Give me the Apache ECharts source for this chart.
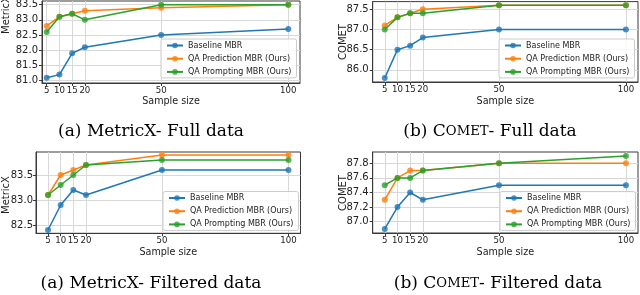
<!DOCTYPE html>
<html>
<head>
<meta charset="utf-8">
<script src="https://cdn.jsdelivr.net/npm/echarts@6/dist/echarts.min.js"></script>
<style>
html,body{margin:0;padding:0;background:#fff;}
#c{width:640px;height:295px;}
</style>
</head>
<body>
<div id="c"></div>
<script>
// ---- data ----
const sampleSizes = [5, 10, 15, 20, 50, 100];
const seriesNames = ['Baseline MBR', 'QA Prediction MBR (Ours)', 'QA Prompting MBR (Ours)'];

const metricxFullBaseline = [81.1, 81.2, 81.9, 82.1, 82.5, 82.7];
const metricxFullQAPred   = [82.8, 83.1, 83.2, 83.3, 83.4, 83.5];
const metricxFullQAPrompt = [82.6, 83.1, 83.2, 83.0, 83.5, 83.5];

const cometFullBaseline = [85.8, 86.5, 86.6, 86.8, 87.0, 87.0];
const cometFullQAPred   = [87.1, 87.3, 87.4, 87.5, 87.6, 87.6];
const cometFullQAPrompt = [87.0, 87.3, 87.4, 87.4, 87.6, 87.6];

const metricxFiltBaseline = [82.4, 82.9, 83.2, 83.1, 83.6, 83.6];
const metricxFiltQAPred   = [83.1, 83.5, 83.6, 83.7, 83.9, 83.9];
const metricxFiltQAPrompt = [83.1, 83.3, 83.5, 83.7, 83.8, 83.8];

const cometFiltBaseline = [86.9, 87.2, 87.4, 87.3, 87.5, 87.5];
const cometFiltQAPred   = [87.3, 87.6, 87.7, 87.7, 87.8, 87.8];
const cometFiltQAPrompt = [87.5, 87.6, 87.6, 87.7, 87.8, 87.9];

const xTickLabels = [5, 10, 15, 20, 50, 100];
const yTicksMetricxFull = [81.0, 81.5, 82.0, 82.5, 83.0, 83.5];
const yTicksCometFull   = [86.0, 86.5, 87.0, 87.5];
const yTicksMetricxFilt = [82.5, 83.0, 83.5];
const yTicksCometFilt   = [87.0, 87.2, 87.4, 87.6, 87.8];

const yAxisNames = ['MetricX', 'COMET', 'MetricX', 'COMET'];

// ---- layout / style ----
const colors = ['#1f77b4', '#ff7f0e', '#2ca02c'];
const panels = [
  {l:42, r:300, t:1, b:83, xmin:3.15, xmax:104.6, ymin:80.924, ymax:83.62, yt:yTicksMetricxFull, dec:1,
   data:[metricxFullBaseline, metricxFullQAPred, metricxFullQAPrompt], ylm:4, leg:{left:161, top:39},
   yname:{x:6, y:15}, cap:{x:151, y:132, pre:'(a) MetricX- Full data'}, nameGap:13},
  {l:372.7, r:638, t:1.6, b:82, xmin:0.25, xmax:104.75, ymin:85.70, ymax:87.69, yt:yTicksCometFull, dec:1,
   data:[cometFullBaseline, cometFullQAPred, cometFullQAPrompt], ylm:4, leg:{left:499, top:39},
   yname:{x:343, y:42}, cap:{x:490, y:132, comet:true, post:'- Full data', pre:'(b) '}, nameGap:14},
  {l:36, r:300.5, t:152, b:233.3, xmin:0.25, xmax:104.75, ymin:82.334, ymax:83.96, yt:yTicksMetricxFilt, dec:1,
   data:[metricxFiltBaseline, metricxFiltQAPred, metricxFiltQAPrompt], ylm:3, leg:{left:163, top:191.5},
   yname:{x:6, y:195}, cap:{x:151, y:283.5, pre:'(a) MetricX- Filtered data'}, nameGap:14},
  {l:372.7, r:638, t:152, b:233, xmin:0.25, xmax:104.75, ymin:86.845, ymax:87.955, yt:yTicksCometFilt, dec:1,
   data:[cometFiltBaseline, cometFiltQAPred, cometFiltQAPrompt], ylm:4, leg:{left:500, top:191.5},
   yname:{x:343, y:193}, cap:{x:498, y:283.5, comet:true, post:'- Filtered data', pre:'(b) '}, nameGap:14}
];

const tickColor = '#222';
const grids = [], xAxes = [], yAxes = [], series = [], legends = [], graphics = [];

panels.forEach((p, i) => {
  grids.push({left:p.l, top:p.t, width:p.r - p.l, height:p.b - p.t, show:true,
    borderColor:'#3a3a3a', borderWidth:1, backgroundColor:'transparent',
    containLabel:false, outerBoundsMode:'none'});
  xAxes.push({type:'value', gridIndex:i, min:p.xmin, max:p.xmax,
    axisLine:{show:true, onZero:false, lineStyle:{color:'#3a3a3a', width:1}},
    axisTick:{show:true, customValues:xTickLabels, length:3, lineStyle:{color:'#3a3a3a'}},
    axisLabel:{customValues:xTickLabels, fontSize:8.6, color:tickColor, margin:3, fontFamily:'DejaVu Sans', hideOverlap:false},
    splitLine:{show:true, lineStyle:{color:'#d8d8d8', width:1}},
    name:'Sample size', nameLocation:'middle', nameGap:p.nameGap,
    nameTextStyle:{fontSize:9.6, color:tickColor, fontFamily:'DejaVu Sans'}});
  yAxes.push({type:'value', gridIndex:i, min:p.ymin, max:p.ymax,
    axisLine:{show:true, onZero:false, lineStyle:{color:'#3a3a3a', width:1}},
    axisTick:{show:true, customValues:p.yt, length:3, lineStyle:{color:'#3a3a3a'}},
    axisLabel:{customValues:p.yt, fontSize:10, color:tickColor, margin:p.ylm, fontFamily:'DejaVu Sans',
      formatter:v => v.toFixed(p.dec)},
    splitLine:{show:true, lineStyle:{color:'#d8d8d8', width:1}}});
  p.data.forEach((arr, k) => {
    series.push({type:'line', name:seriesNames[k], xAxisIndex:i, yAxisIndex:i,
      data:sampleSizes.map((x, j) => [x, arr[j]]),
      color:colors[k], symbol:'circle', symbolSize:6, showSymbol:true,
      lineStyle:{width:1.5, color:colors[k]},
      itemStyle:{color:colors[k], opacity:0.8},
      z:2 + k, animation:false, silent:true});
  });
  legends.push({orient:'vertical', left:p.leg.left, top:p.leg.top, data:seriesNames,
    itemWidth:16, itemHeight:7, itemGap:5.2, padding:[2.5, 5, 2, 5],
    backgroundColor:'rgba(255,255,255,0.85)', borderColor:'#cccccc', borderWidth:1, borderRadius:2,
    textStyle:{fontSize:8, color:tickColor, fontFamily:'DejaVu Sans'}, selectedMode:false, z:10});
  graphics.push({type:'text', x:p.yname.x, y:p.yname.y, rotation:Math.PI/2,
    style:{text:yAxisNames[i], fontSize:10, fill:tickColor, fontFamily:'DejaVu Sans', align:'center', verticalAlign:'middle'}});
  let capText;
  if (p.cap.comet) {
    capText = '{b|' + p.cap.pre + 'C}{s|OMET}{b|' + p.cap.post + '}';
  } else {
    capText = '{b|' + p.cap.pre + '}';
  }
  graphics.push({type:'text', x:p.cap.x, y:p.cap.y,
    style:{text:capText, align:'center', verticalAlign:'middle', fill:'#000',
      rich:{b:{fontSize:17, fontFamily:'DejaVu Serif', fill:'#000'},
            s:{fontSize:13.2, fontFamily:'DejaVu Serif', fill:'#000'}}}});
});

const chart = echarts.init(document.getElementById('c'), null, {renderer:'canvas'});
chart.setOption({
  animation:false,
  backgroundColor:'#fff',
  grid:grids, xAxis:xAxes, yAxis:yAxes, series:series, legend:legends,
  graphic:graphics
});
</script>
</body>
</html>
